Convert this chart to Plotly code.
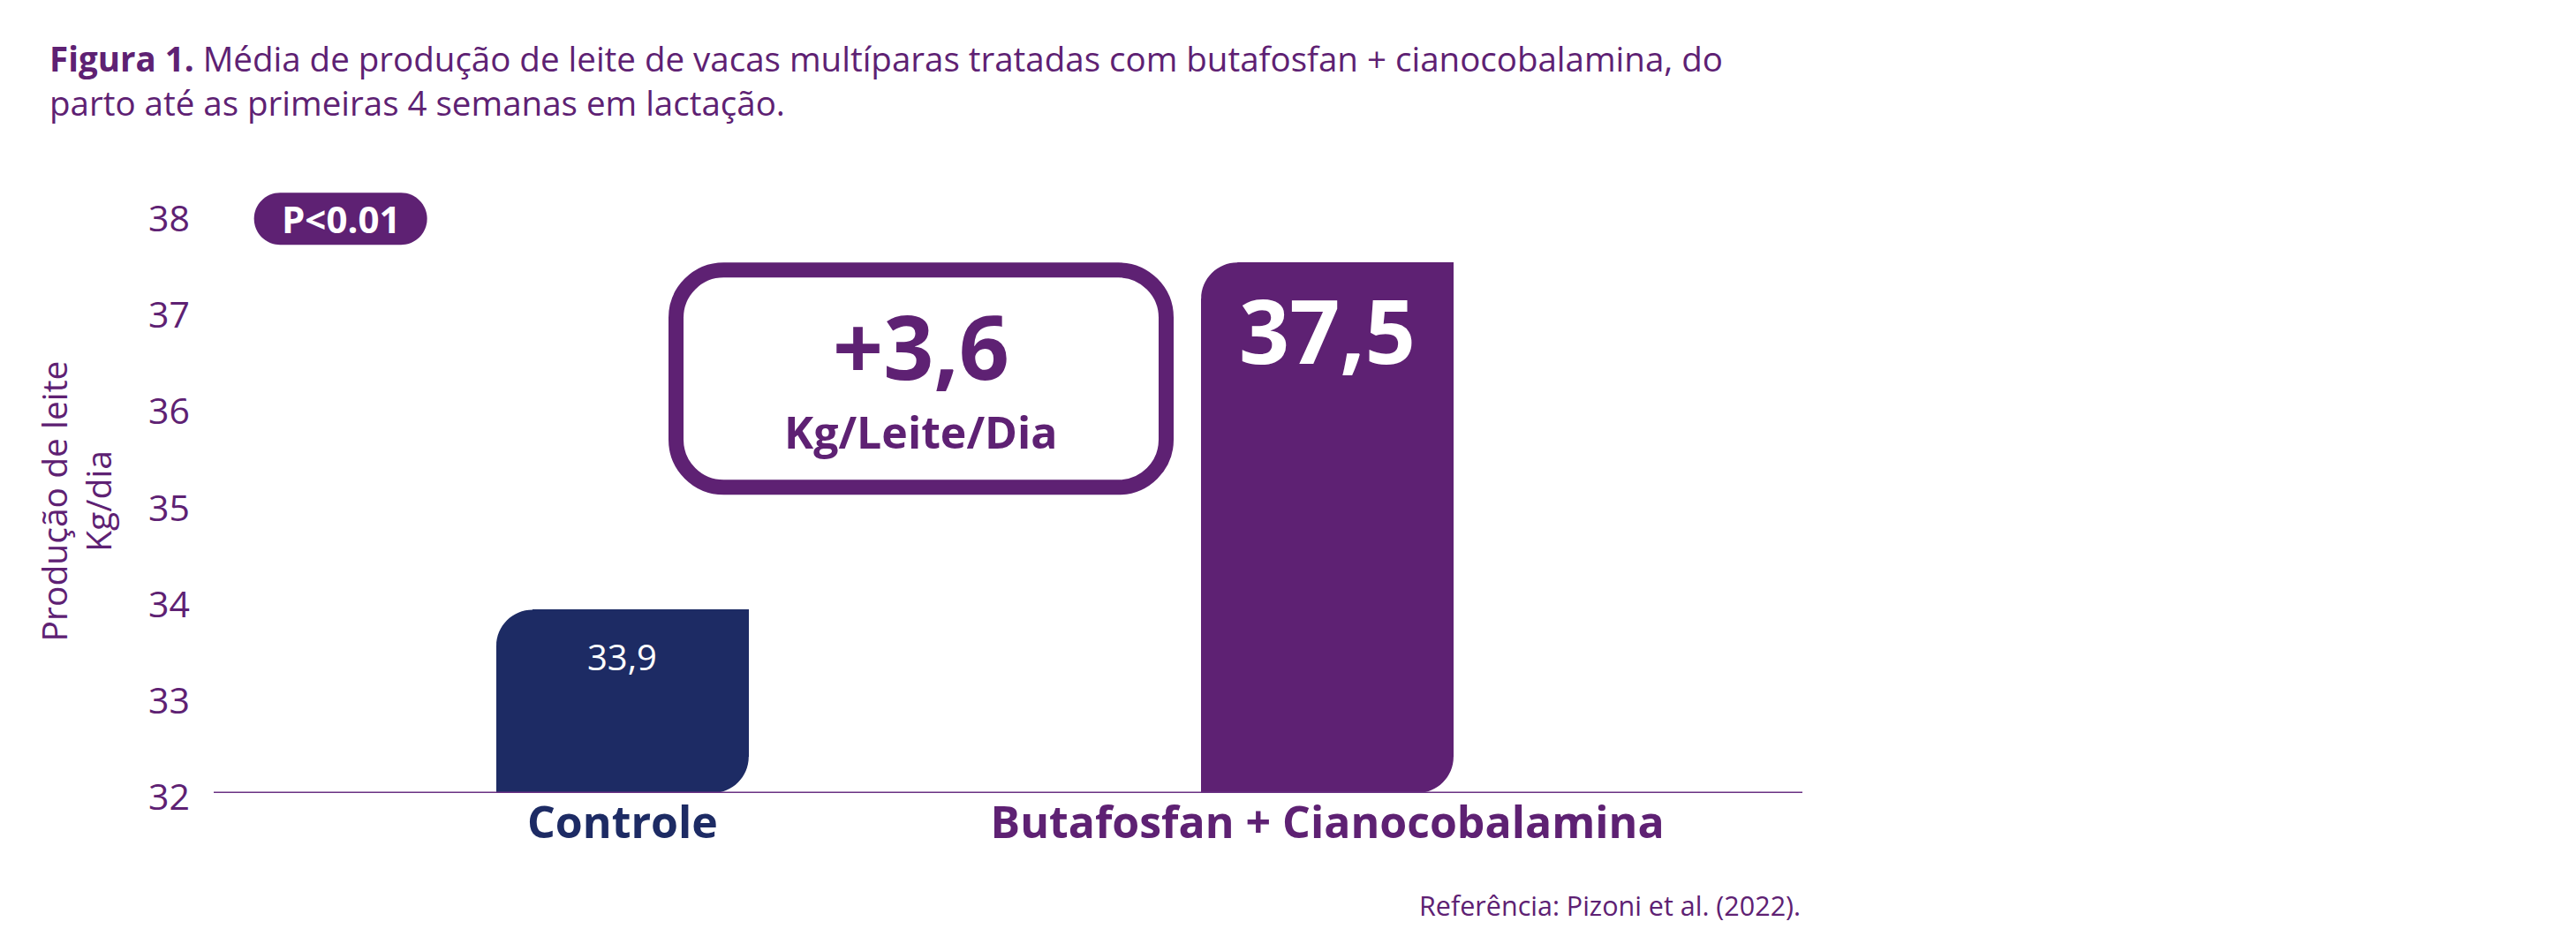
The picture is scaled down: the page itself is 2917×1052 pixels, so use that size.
import plotly.graph_objects as go

# ---------------- data ----------------
categories = ["Controle", "Butafosfan + Cianocobalamina"]
values = [33.9, 37.5]
value_labels = ["33,9", "37,5"]
y_ticks = [32, 33, 34, 35, 36, 37, 38]
diff_label = "+3,6"
diff_unit = "Kg/Leite/Dia"
p_label = "P<0.01"
title_text = ("<b>Figura 1.</b> Média de produção de leite de vacas multíparas tratadas com butafosfan + cianocobalamina, do"
              "<br>parto até as primeiras 4 semanas em lactação.")
y_title = "Produção de leite<br>Kg/dia"
ref_text = "Referência: Pizoni et al. (2022)."

# ---------------- styles ----------------
PURPLE = "#5E2173"
NAVY = "#1D2B64"
LINE = "#6A3183"
FONT = "Open Sans"
bar_colors = [NAVY, PURPLE]
label_colors = [NAVY, PURPLE]
W, H = 2917, 1052
ML, MR, MT, MB = 234, 884, 191, 162
BAR_W = 0.358
Y_MIN, Y_MAX = 32, 38.4
X_RANGE = [-0.58, 1.674]
R_BAR = 41
K = 0.5523

fig = go.Figure()
fig.add_trace(go.Bar(
    x=categories, y=values, width=BAR_W,
    marker=dict(color=bar_colors, line=dict(width=0)),
    hoverinfo="skip", showlegend=False,
))

shapes = []
# rounded top-left / bottom-right corners (white masks anchored at bar corners)
for i, v in enumerate(values):
    r = R_BAR
    c = r * (1 - K)
    shapes.append(dict(
        type="path", xref="x", yref="y", xsizemode="pixel", ysizemode="pixel",
        xanchor=i - BAR_W / 2, yanchor=v,
        path=f"M -1 1 L {r} 1 L {r} 0 C {c} 0 0 {-c} 0 {-r} L -1 {-r} Z",
        fillcolor="white", line=dict(width=0), layer="above",
    ))
    shapes.append(dict(
        type="path", xref="x", yref="y", xsizemode="pixel", ysizemode="pixel",
        xanchor=i + BAR_W / 2, yanchor=Y_MIN,
        path=f"M 1 0 L 1 {r} L 0 {r} C 0 {c} {-c} 0 {-r} 0 Z",
        fillcolor="white", line=dict(width=0), layer="above",
    ))

# baseline
shapes.append(dict(type="line", xref="paper", yref="y", x0=0, x1=1, y0=Y_MIN, y1=Y_MIN,
                   line=dict(color=LINE, width=3), layer="above"))


def rounded_rect(x0, x1, y0, y1, r):
    c = r * K
    return (f"M {x0 + r} {y1} L {x1 - r} {y1} "
            f"C {x1 - r + c} {y1} {x1} {y1 - r + c} {x1} {y1 - r} "
            f"L {x1} {y0 + r} "
            f"C {x1} {y0 + r - c} {x1 - r + c} {y0} {x1 - r} {y0} "
            f"L {x0 + r} {y0} "
            f"C {x0 + r - c} {y0} {x0} {y0 + r - c} {x0} {y0 + r} "
            f"L {x0} {y1 - r} "
            f"C {x0} {y1 - r + c} {x0 + r - c} {y1} {x0 + r} {y1} Z")


# difference box (anchored at treatment level)
BOX_X = 0.4236
shapes.append(dict(
    type="path", xref="x", yref="y", xsizemode="pixel", ysizemode="pixel",
    xanchor=BOX_X, yanchor=values[1],
    path=rounded_rect(-277.5, 277.5, -254.5, -8.5, 54),
    fillcolor="rgba(0,0,0,0)", line=dict(color=PURPLE, width=17), layer="above",
))

# p-value pill
P_X = -0.40
shapes.append(dict(
    type="path", xref="x", yref="y", xsizemode="pixel", ysizemode="pixel",
    xanchor=P_X, yanchor=y_ticks[-1],
    path=rounded_rect(-98, 98, -34.5, 24.5, 29.5),
    fillcolor=PURPLE, line=dict(width=0), layer="above",
))

annotations = []
annotations.append(dict(x=0, y=values[0], xref="x", yref="y", text=value_labels[0],
                        showarrow=False, yanchor="top", yshift=-24,
                        font=dict(family=FONT, size=40, color="white")))
annotations.append(dict(x=1, y=values[1], xref="x", yref="y", text=f"<b>{value_labels[1]}</b>",
                        showarrow=False, yanchor="top", yshift=-6,
                        font=dict(family=FONT, size=100, color="white")))
annotations.append(dict(x=BOX_X, y=values[1], xref="x", yref="y", text=f"<b>{diff_label}</b>",
                        showarrow=False, yanchor="middle", yshift=-94,
                        font=dict(family=FONT, size=100, color=PURPLE)))
annotations.append(dict(x=BOX_X, y=values[1], xref="x", yref="y", text=f"<b>{diff_unit}</b>",
                        showarrow=False, yanchor="middle", yshift=-192,
                        font=dict(family=FONT, size=50, color=PURPLE)))
annotations.append(dict(x=P_X, y=y_ticks[-1], xref="x", yref="y", text=f"<b>{p_label}</b>",
                        showarrow=False, yanchor="middle", yshift=-5,
                        font=dict(family=FONT, size=42, color="white")))
annotations.append(dict(x=-0.0867, y=0.473, xref="paper", yref="paper", text=y_title,
                        showarrow=False, textangle=-90, xanchor="center", yanchor="middle",
                        font=dict(family=FONT, size=39, color=PURPLE)))
annotations.append(dict(x=1, y=-0.1817, xref="paper", yref="paper", text=ref_text,
                        showarrow=False, xanchor="right", yanchor="middle",
                        font=dict(family=FONT, size=30.5, color=PURPLE)))

ticktext = [f"<b><span style='color:{c}'>{t}</span></b>" for t, c in zip(categories, label_colors)]

fig.update_layout(
    width=W, height=H,
    margin=dict(l=ML, r=MR, t=MT, b=MB, autoexpand=False),
    paper_bgcolor="white", plot_bgcolor="white",
    font=dict(family=FONT, color=PURPLE),
    title=dict(text=title_text, xref="container", yref="container",
               x=48 / W, y=1 - 73 / H, xanchor="left", yanchor="top",
               font=dict(family=FONT, size=38.5, color=PURPLE)),
    xaxis=dict(type="category", range=X_RANGE, showline=False, showgrid=False, zeroline=False,
               tickmode="array", tickvals=categories, ticktext=ticktext, ticks="",
               tickfont=dict(family=FONT, size=50), fixedrange=True),
    yaxis=dict(range=[Y_MIN, Y_MAX], showline=False, showgrid=False, zeroline=False,
               tickmode="array", tickvals=y_ticks, ticktext=[str(t) for t in y_ticks],
               ticks="", ticklabelstandoff=26, ticklabelshift=5,
               tickfont=dict(family=FONT, size=41, color=PURPLE), fixedrange=True),
    shapes=shapes, annotations=annotations,
    bargap=0,
)

fig.write_html("out.html")
